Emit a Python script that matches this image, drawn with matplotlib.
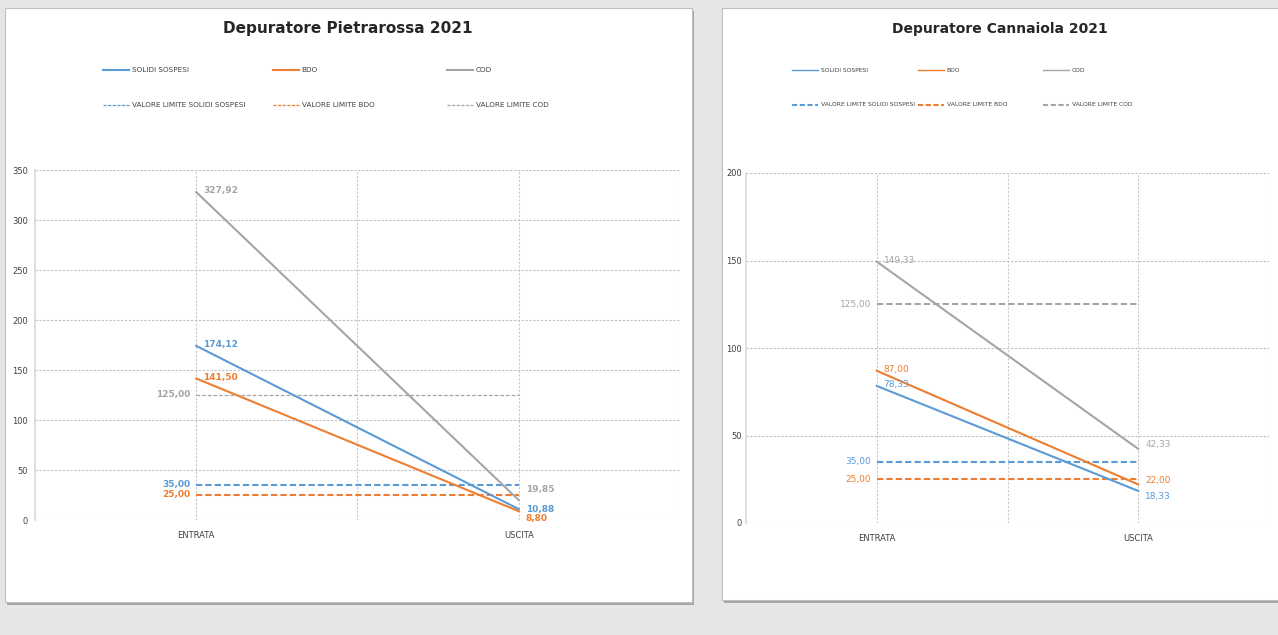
import matplotlib.pyplot as plt
from matplotlib.patches import Rectangle
from matplotlib.lines import Line2D

plt.rcParams['font.family'] = ['Liberation Sans Narrow', 'DejaVu Sans']

# dati
categorie = ["ENTRATA", "USCITA"]
serie = ["SOLIDI SOSPESI", "BDO", "COD"]
limiti_nomi = ["VALORE LIMITE SOLIDI SOSPESI", "VALORE LIMITE BDO", "VALORE LIMITE COD"]
colori = ["#5b9bd5", "#ed7d31", "#a5a5a5"]

pietra_ss = [174.12, 10.88]
pietra_bdo = [141.50, 8.80]
pietra_cod = [327.92, 19.85]
pietra_limiti = [35.00, 25.00, 125.00]

canna_ss = [78.33, 18.33]
canna_bdo = [87.00, 22.00]
canna_cod = [149.33, 42.33]
canna_limiti = [35.00, 25.00, 125.00]

W, H = 1278, 635
fig = plt.figure(figsize=(W / 100, H / 100), dpi=100)
fig.patch.set_facecolor("#e6e6e6")


def px(x, y):
    return x / W, 1 - y / H


def pannello(x0, y0, x1, y1):
    # ombra + riquadro bianco
    fx0, fy1 = px(x0, y0)
    fx1, fy0 = px(x1, y1)
    fig.patches.append(Rectangle((fx0 + 0.0012, fy0 - 0.004), fx1 - fx0, fy1 - fy0,
                                 transform=fig.transFigure, facecolor="#a6a6a6",
                                 edgecolor="none", zorder=-2))
    fig.patches.append(Rectangle((fx0, fy0), fx1 - fx0, fy1 - fy0,
                                 transform=fig.transFigure, facecolor="white",
                                 edgecolor="#bfbfbf", lw=0.8, zorder=-1))


def legenda(xs, ys, lw_sol, lw_lim, fs):
    for i in range(3):
        x, y = xs[i], ys[0]
        a, b = px(x, y)
        c, _ = px(x + 26, y)
        fig.add_artist(Line2D([a, c], [b, b], color=colori[i], lw=lw_sol,
                              transform=fig.transFigure))
        fig.text(c + 0.002, b, serie[i], fontsize=fs, va="center", color="#404040")
        x, y = xs[i], ys[1]
        a, b = px(x, y)
        c, _ = px(x + 26, y)
        fig.add_artist(Line2D([a, c], [b, b], color=colori[i], lw=lw_lim, ls=(0, (2.5, 1.2)),
                              transform=fig.transFigure))
        fig.text(c + 0.002, b, limiti_nomi[i], fontsize=fs, va="center", color="#404040")


def grafico(ax, valori, limiti, ymax, bold, lw_grigio, sposta, pad):
    xs = [0, 1]
    for i, v in enumerate(valori):
        ax.plot(xs, v, color=colori[i], lw=1.5, zorder=3)
    for i, lim in enumerate(limiti):
        lw = lw_grigio if i == 2 else 1.5
        ax.plot(xs, [lim, lim], color=colori[i], lw=lw, ls=(0, (3, 1.5)), zorder=2)
    w = "bold" if bold else "normal"
    # etichette
    for i, v in enumerate(valori):
        ax.annotate(f"{v[0]:.2f}".replace(".", ","), (0, v[0]), xytext=(5, 1),
                    textcoords="offset points", fontsize=6.5, color=colori[i],
                    fontweight=w, va="center", ha="left", zorder=4)
    for i, lim in enumerate(limiti):
        ax.annotate(f"{lim:.2f}".replace(".", ","), (0, lim), xytext=(-4, 0),
                    textcoords="offset points", fontsize=6.5, color=colori[i],
                    fontweight=w, va="center", ha="right", zorder=4)
    for i in [2, 0, 1]:
        v = valori[i][1]
        ax.annotate(f"{v:.2f}".replace(".", ","), (1, v), xytext=(5, sposta[i]),
                    textcoords="offset points", fontsize=6.5, color=colori[i],
                    fontweight=w, va="center", ha="left", zorder=4)
    ax.set_xlim(-0.5, 1.5)
    ax.set_ylim(0, ymax)
    ax.set_xticks(xs)
    ax.set_xticklabels(categorie, fontsize=6, color="#404040")
    ax.tick_params(axis="x", length=0, pad=8)
    ax.tick_params(axis="y", length=0, labelsize=6, labelcolor="#404040", pad=pad)
    for s in ["top", "right", "bottom"]:
        ax.spines[s].set_visible(False)
    ax.spines["left"].set_color("#d9d9d9")
    ax.spines["left"].set_linewidth(1.2)
    ax.set_facecolor("none")


def griglia(ax, ticks):
    ax.set_yticks(ticks)
    for y in ticks:
        ax.axhline(y, color="#bfbfbf", lw=0.8, ls=(0, (2, 1.5)), zorder=1)
    for x in [0, 0.5, 1, 1.5]:
        ax.axvline(x, color="#c8c8c8", lw=0.8, ls=(0, (2, 1.5)), zorder=1)


# pannello sinistro
pannello(5, 8, 692, 602)
fig.text(*px(348, 29), "Depuratore Pietrarossa 2021", fontsize=11, fontweight="bold",
         ha="center", va="center", color="#262626")
legenda([103, 273, 447], [70, 105], 1.5, 0.9, 5.2)
ax1 = fig.add_axes([35 / W, 1 - 520 / H, 645 / W, 350 / H])
grafico(ax1, [pietra_ss, pietra_bdo, pietra_cod], pietra_limiti, 350, True, 0.9,
        {0: 0, 1: -5, 2: 8}, 5)
griglia(ax1, list(range(0, 351, 50)))

# pannello destro
pannello(722, 8, 1290, 600)
fig.text(*px(1000, 29), "Depuratore Cannaiola 2021", fontsize=10, fontweight="bold",
         ha="center", va="center", color="#262626")
legenda([792, 918, 1043], [70, 105], 1.0, 1.5, 4.3)
ax2 = fig.add_axes([746 / W, 1 - 523 / H, 523 / W, 350 / H])
grafico(ax2, [canna_ss, canna_bdo, canna_cod], canna_limiti, 200, False, 1.5,
        {0: -4, 1: 3, 2: 3}, 3)
griglia(ax2, list(range(0, 201, 50)))

fig.savefig("out.png", dpi=100, facecolor=fig.get_facecolor())
